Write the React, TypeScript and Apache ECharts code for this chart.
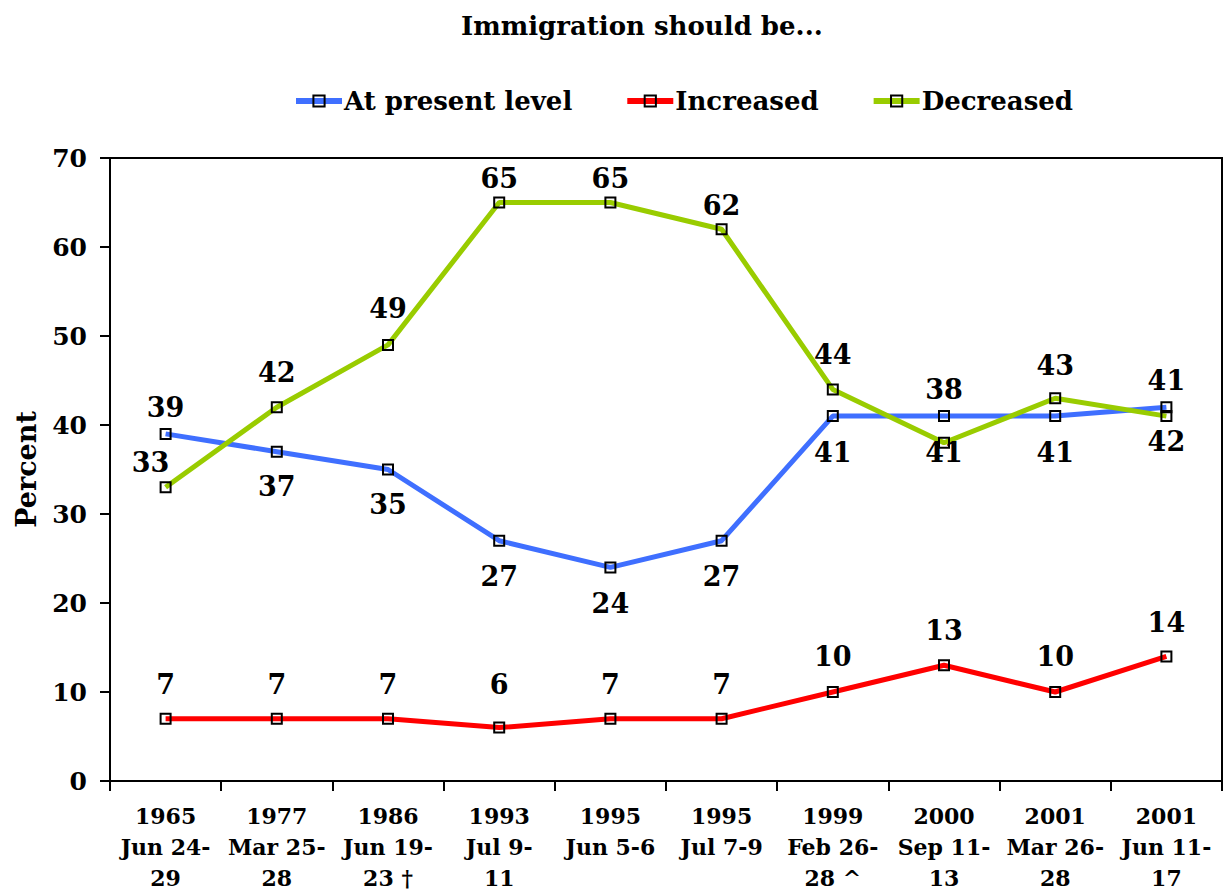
import React, { useEffect, useRef } from "react";
import * as echarts from "echarts";

const years = ["1965", "1977", "1986", "1993", "1995", "1995", "1999", "2000", "2001", "2001"];
const dates = ["Jun 24-\n29", "Mar 25-\n28", "Jun 19-\n23 †", "Jul 9-\n11", "Jun 5-6", "Jul 7-9", "Feb 26-\n28 ^", "Sep 11-\n13", "Mar 26-\n28", "Jun 11-\n17"];
const categories = years.map((y, i) => y + "\n" + dates[i]);

const presentLevel = [39, 37, 35, 27, 24, 27, 41, 41, 41, 42];
const increased = [7, 7, 7, 6, 7, 7, 10, 13, 10, 14];
const decreased = [33, 42, 49, 65, 65, 62, 44, 38, 43, 41];

const yTicks = { min: 0, max: 70, interval: 10 };

// label placement (pixel offsets from each point), layout only
const presentLabelDy = [-26, 35, 35, 36, 36, 36, 36, 36, 36, 34];
const increasedLabelDy = [-34, -34, -34, -43, -34, -34, -36, -35, -36, -34];
const decreasedLabelDy = [-25, -35, -36, -24, -24, -24, -35, -53, -33, -36];
const decreasedLabelDx = [-15, 0, 0, 0, 0, 0, 0, 0, 0, 0];

const FONT = "DejaVu Serif";

function buildSeries(name: string, values: number[], color: string, dy: number[], dx?: number[]) {
  return {
    name,
    type: "line",
    symbol: "rect",
    symbolSize: 10,
    itemStyle: { color: "rgba(0,0,0,0)", borderColor: "#000", borderWidth: 2 },
    lineStyle: { color, width: 5 },
    emphasis: { disabled: true },
    data: values.map((v, i) => ({
      value: v,
      label: { offset: [dx ? dx[i] : 0, dy[i]] },
    })),
    label: {
      show: true,
      position: "inside",
      color: "#000",
      fontFamily: FONT,
      fontWeight: "bold",
      fontSize: 27,
    },
  };
}

export default function App() {
  const ref = useRef<HTMLDivElement>(null);
  useEffect(() => {
    if (!ref.current) return;
    const chart = echarts.init(ref.current, null, { renderer: "svg" });
    chart.setOption({
      animation: false,
      backgroundColor: "#fff",
      title: {
        text: "Immigration should be...",
        left: 456,
        top: 8,
        textStyle: { fontFamily: FONT, fontWeight: "bold", fontSize: 26, color: "#000" },
      },
      legend: {
        left: 288,
        top: 83,
        itemWidth: 46,
        itemHeight: 14,
        itemGap: 52,
        data: ["At present level", "Increased", "Decreased"],
        lineStyle: { width: 6 },
        textStyle: { fontFamily: FONT, fontWeight: "bold", fontSize: 26, color: "#000", padding: [0, 0, 0, -3] },
      },
      grid: {
        left: 110,
        right: 5,
        top: 158,
        bottom: 112,
        show: true,
        borderColor: "#000",
        borderWidth: 2,
        containLabel: false,
        outerBoundsMode: "none",
      },
      xAxis: {
        type: "category",
        data: categories,
        boundaryGap: true,
        axisLine: { lineStyle: { color: "#000", width: 2 } },
        axisTick: { show: true, length: 10, lineStyle: { color: "#000", width: 2 } },
        axisLabel: {
          interval: 0,
          margin: 19,
          color: "#000",
          fontFamily: FONT,
          fontWeight: "bold",
          fontSize: 22,
          lineHeight: 31,
        },
        splitLine: { show: false },
      },
      yAxis: {
        type: "value",
        min: yTicks.min,
        max: yTicks.max,
        interval: yTicks.interval,
        name: "Percent",
        nameLocation: "middle",
        nameGap: 70,
        nameTextStyle: { fontFamily: FONT, fontWeight: "bold", fontSize: 27, color: "#000" },
        axisLine: { show: true, lineStyle: { color: "#000", width: 2 } },
        axisTick: { show: true, length: 10, lineStyle: { color: "#000", width: 2 } },
        axisLabel: { margin: 23, color: "#000", fontFamily: FONT, fontWeight: "bold", fontSize: 25 },
        splitLine: { show: false },
      },
      series: [
        buildSeries("At present level", presentLevel, "#3F6FFF", presentLabelDy),
        buildSeries("Increased", increased, "#FF0000", increasedLabelDy),
        buildSeries("Decreased", decreased, "#99CC00", decreasedLabelDy, decreasedLabelDx),
      ],
    });
    return () => chart.dispose();
  }, []);
  return (
    <div
      ref={ref}
      style={{ position: "fixed", left: 0, top: 0, width: 1227, height: 893, background: "#fff" }}
    />
  );
}
